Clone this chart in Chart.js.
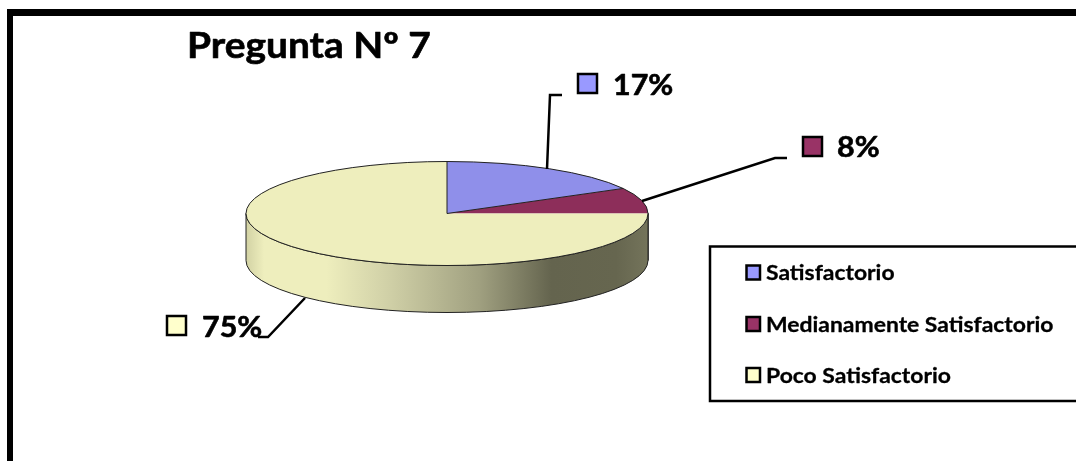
<!DOCTYPE html>
<html lang="es">
<head>
<meta charset="utf-8">
<title>Pregunta Nº 7</title>
<script src="https://cdn.jsdelivr.net/npm/chart.js@4"></script>
<style>
  html, body { margin: 0; padding: 0; background: #fff; overflow: hidden; }
  canvas { display: block; }
</style>
</head>
<body>
<canvas id="grafica" width="1076" height="461"></canvas>
<script>
// Datos de la encuesta
const titulo = "Pregunta Nº 7";
const categorias = ["Satisfactorio", "Medianamente Satisfactorio", "Poco Satisfactorio"];
const valores = [17, 8, 75];
const coloresPorcion = ["#8f8fea", "#8d2e5a", "#eeeebd"];
const coloresMuestra = ["#9999ff", "#993366", "#ffffcc"];

// Geometria del disco: centro, radios de la elipse y grosor de la pared
const centroX = 447, centroY = 213.5, radioX = 201, radioY = 52, grosor = 47;
const fuente = "Lato, Carlito, Calibri, sans-serif";

// Etiquetas de porcentaje con su muestra y su linea guia
const etiquetas = [
  { muestra: [578, 74], texto: [613, 95], guia: [[547, 169], [550, 95], [562, 95]] },
  { muestra: [803, 137], texto: [837, 157], guia: [[642, 201], [775, 158], [787, 158]] },
  { muestra: [167, 316], texto: [202, 337], guia: [[305, 298], [268, 337], [258, 337]] },
];
const filasLeyenda = [272.5, 324, 375];

// Aplasta el pastel en vertical para que el circulo quede como elipse
function aplastar(ctx) {
  ctx.translate(centroX, centroY);
  ctx.scale(1, radioY / radioX);
  ctx.translate(-centroX, -centroY);
}

function gradientePared(ctx) {
  const g = ctx.createLinearGradient(centroX - radioX, 0, centroX + radioX, 0);
  g.addColorStop(0, "#d2d2a4");
  g.addColorStop(0.045, "#eeeebd");
  g.addColorStop(0.2, "#eeeebd");
  g.addColorStop(0.36, "#cfcfa6");
  g.addColorStop(0.58, "#a0a080");
  g.addColorStop(0.76, "#64644e");
  g.addColorStop(0.92, "#66664f");
  g.addColorStop(1, "#74745b");
  return g;
}

// Texto ensanchado en horizontal, con un trazo fino para darle mas cuerpo
function textoAncho(ctx, texto, x, y, escala, cuerpo) {
  ctx.save();
  ctx.translate(x, y);
  ctx.scale(escala, 1);
  ctx.lineWidth = cuerpo;
  ctx.strokeStyle = "#000";
  ctx.lineJoin = "round";
  ctx.strokeText(texto, 0, 0);
  ctx.fillText(texto, 0, 0);
  ctx.restore();
}

const disco3d = {
  id: "disco3d",
  beforeDatasetsDraw(chart) {
    const ctx = chart.ctx;
    // Pared lateral: solo la parte delantera de cada porcion (angulos 0 a PI)
    chart.getDatasetMeta(0).data.forEach((arco) => {
      const ini = Math.max(arco.startAngle, 0);
      const fin = Math.min(arco.endAngle, Math.PI);
      if (fin <= ini) return;
      ctx.save();
      ctx.beginPath();
      ctx.ellipse(centroX, centroY, radioX, radioY, 0, ini, fin);
      ctx.ellipse(centroX, centroY + grosor, radioX, radioY, 0, fin, ini, true);
      ctx.closePath();
      ctx.fillStyle = gradientePared(ctx);
      ctx.fill();
      ctx.lineWidth = 1;
      ctx.strokeStyle = "#222";
      ctx.stroke();
      ctx.restore();
    });
    ctx.save();
    aplastar(ctx);
  },
  afterDatasetsDraw(chart) {
    const ctx = chart.ctx;
    ctx.restore();
    // Contorno fino de cada porcion, sin deformar el ancho de linea
    chart.getDatasetMeta(0).data.forEach((arco) => {
      ctx.save();
      ctx.beginPath();
      if (arco.startAngle < -0.01) {
        ctx.moveTo(centroX, centroY);
      }
      ctx.ellipse(centroX, centroY, radioX, radioY, 0, arco.startAngle, arco.endAngle);
      ctx.lineWidth = 1;
      ctx.strokeStyle = "#222";
      ctx.stroke();
      ctx.restore();
    });
  },
};

const adornos = {
  id: "adornos",
  beforeDraw(chart) {
    const ctx = chart.ctx;
    ctx.save();
    ctx.fillStyle = "#fff";
    ctx.fillRect(0, 0, chart.width, chart.height);
    // Marco grueso: solo izquierda y arriba quedan dentro del lienzo
    ctx.fillStyle = "#000";
    ctx.fillRect(7, 9, 6, chart.height - 9);
    ctx.fillRect(7, 9, chart.width - 7, 7);
    ctx.restore();
  },
  afterDraw(chart) {
    const ctx = chart.ctx;
    ctx.save();
    ctx.fillStyle = "#000";
    ctx.textBaseline = "alphabetic";

    ctx.font = "700 36px " + fuente;
    textoAncho(ctx, titulo, 187, 58, 1.08, 0.6);

    // Etiquetas de porcentaje
    etiquetas.forEach((et, i) => {
      ctx.beginPath();
      et.guia.forEach((p, j) => (j ? ctx.lineTo(p[0], p[1]) : ctx.moveTo(p[0], p[1])));
      ctx.lineWidth = 2.5;
      ctx.strokeStyle = "#000";
      ctx.stroke();

      ctx.fillStyle = coloresMuestra[i];
      ctx.fillRect(et.muestra[0], et.muestra[1], 19, 19);
      ctx.strokeRect(et.muestra[0], et.muestra[1], 19, 19);

      ctx.fillStyle = "#000";
      ctx.font = "700 29px " + fuente;
      textoAncho(ctx, valores[i] + "%", et.texto[0], et.texto[1], 1.05, 0.6);
    });

    // Leyenda
    ctx.lineWidth = 2.5;
    ctx.strokeStyle = "#000";
    ctx.beginPath();
    ctx.moveTo(chart.width, 246.5);
    ctx.lineTo(710, 246.5);
    ctx.lineTo(710, 401);
    ctx.lineTo(chart.width, 401);
    ctx.stroke();

    ctx.font = "700 21.5px " + fuente;
    categorias.forEach((nombre, i) => {
      const y = filasLeyenda[i];
      ctx.fillStyle = coloresMuestra[i];
      ctx.lineWidth = 2.5;
      ctx.strokeStyle = "#000";
      ctx.fillRect(746.5, y - 7, 13.5, 14);
      ctx.strokeRect(746.5, y - 7, 13.5, 14);
      ctx.fillStyle = "#000";
      textoAncho(ctx, nombre, 766, y + 7.5, 1.065, 0.3);
    });
    ctx.restore();
  },
};

new Chart(document.getElementById("grafica").getContext("2d"), {
  type: "pie",
  data: {
    labels: categorias,
    datasets: [
      {
        data: valores,
        backgroundColor: coloresPorcion,
        borderWidth: 0,
      },
    ],
  },
  options: {
    responsive: false,
    animation: false,
    events: [],
    // El relleno deja un cuadrado de lado 2*radioX centrado en el disco
    layout: {
      padding: {
        left: centroX - radioX,
        right: 1076 - centroX - radioX,
        top: centroY - radioX,
        bottom: 461 - centroY - radioX,
      },
    },
    plugins: {
      legend: { display: false },
      title: { display: false },
      tooltip: { enabled: false },
    },
  },
  plugins: [adornos, disco3d],
});
</script>
</body>
</html>
